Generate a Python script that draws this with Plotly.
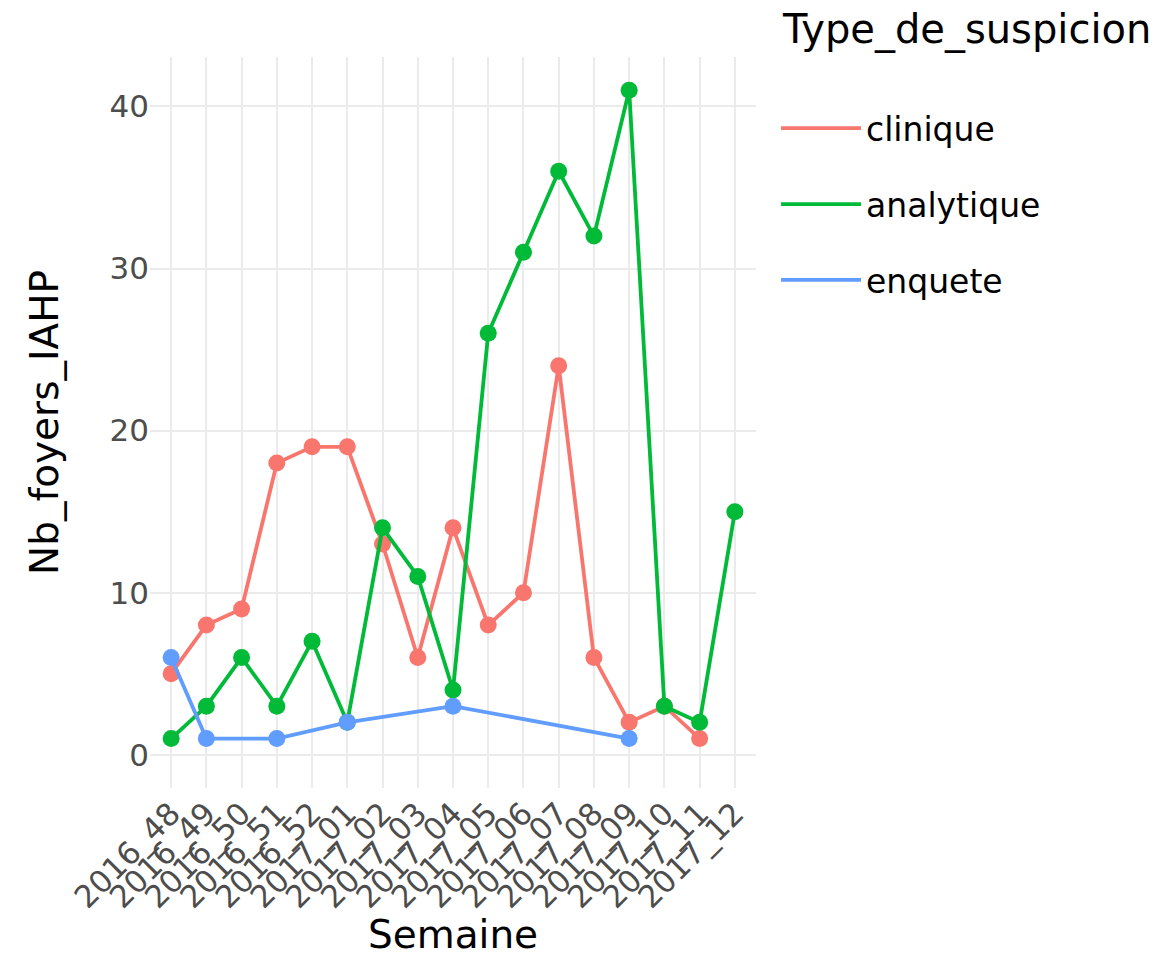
import plotly.graph_objects as go

semaines = ["2016_48", "2016_49", "2016_50", "2016_51", "2016_52",
            "2017_01", "2017_02", "2017_03", "2017_04", "2017_05",
            "2017_06", "2017_07", "2017_08", "2017_09", "2017_10",
            "2017_11", "2017_12"]

clinique_x = semaines[:16]
clinique_y = [5, 8, 9, 18, 19, 19, 13, 6, 14, 8, 10, 24, 6, 2, 3, 1]

analytique_x = semaines
analytique_y = [1, 3, 6, 3, 7, 2, 14, 11, 4, 26, 31, 36, 32, 41, 3, 2, 15]

enquete_x = ["2016_48", "2016_49", "2016_51", "2017_01", "2017_04", "2017_09"]
enquete_y = [6, 1, 1, 2, 3, 1]

y_ticks = [0, 10, 20, 30, 40]

series = [
    ("clinique", clinique_x, clinique_y, "#F8766D"),
    ("analytique", analytique_x, analytique_y, "#00BA38"),
    ("enquete", enquete_x, enquete_y, "#619CFF"),
]

FONT = "DejaVu Sans"

fig = go.Figure()
for name, xs, ys, col in series:
    fig.add_trace(go.Scatter(
        x=xs, y=ys, mode="lines", name=name, legendgroup=name,
        line=dict(color=col, width=3.8),
    ))
    fig.add_trace(go.Scatter(
        x=xs, y=ys, mode="markers", name=name, legendgroup=name,
        showlegend=False, marker=dict(color=col, size=17),
    ))

grid = "#EBEBEB"
fig.update_layout(
    width=1160, height=957,
    paper_bgcolor="white", plot_bgcolor="white",
    margin=dict(l=150, r=404, t=57, b=169),
    font=dict(family=FONT, color="black"),
    xaxis=dict(
        type="category", categoryorder="array", categoryarray=semaines,
        tickmode="array", tickvals=semaines, ticktext=semaines,
        range=[-0.6, 16.6], tickangle=-45, showgrid=True, gridcolor=grid,
        gridwidth=2, zeroline=False, showline=False, ticks="", automargin=False,
        tickfont=dict(size=31, color="#4D4D4D", family=FONT),
        title=dict(text="Semaine", font=dict(size=39, family=FONT), standoff=23),
    ),
    yaxis=dict(
        range=[-2.05, 43.05], tickmode="array", tickvals=y_ticks, showgrid=True,
        gridcolor=grid, gridwidth=2, zeroline=False, showline=False, ticks="",
        automargin=False,
        tickfont=dict(size=31, color="#4D4D4D", family=FONT),
        title=dict(text="Nb_foyers_IAHP", font=dict(size=39, family=FONT), standoff=38),
    ),
    legend=dict(
        font=dict(size=33, family=FONT),
        xref="container", yref="container", x=0.669, y=0.8953,
        xanchor="left", yanchor="top", tracegroupgap=30, itemwidth=80,
        bgcolor="rgba(0,0,0,0)",
    ),
    showlegend=True,
    annotations=[dict(
        text="Type_de_suspicion", xref="paper", yref="paper",
        x=(780 - 150) / 606, y=(788 - 30) / 731, xanchor="left", yanchor="middle",
        showarrow=False, font=dict(size=40, family=FONT, color="black"),
    )],
)

fig.write_html("out.html", config={"displayModeBar": False},
               post_script="document.body.style.margin='0';")
